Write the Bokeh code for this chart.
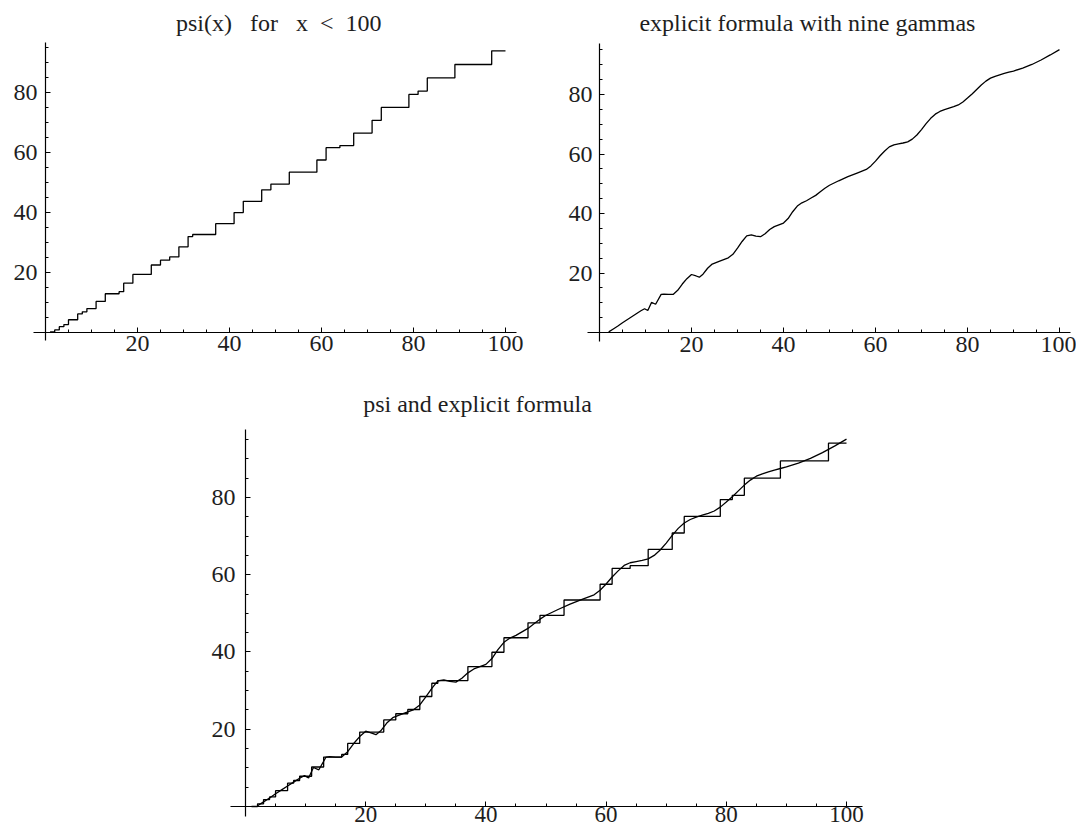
from bokeh.plotting import figure
from bokeh.models import Label, FixedTicker, Range1d
from bokeh.layouts import column, row
from bokeh.embed import file_html
from bokeh.resources import INLINE

# psi(x): jump points (prime powers) and step values
prime_powers = [1, 2, 3, 4, 5, 7, 8, 9, 11, 13, 16, 17, 19, 23, 25, 27, 29, 31, 32,
                37, 41, 43, 47, 49, 53, 59, 61, 64, 67, 71, 73, 79, 81, 83, 89, 97, 100]
psi_values = [0, 0.693, 1.792, 2.485, 4.094, 6.040, 6.733, 7.832, 10.230, 12.795,
              13.488, 16.321, 19.266, 22.401, 24.011, 25.109, 28.477, 31.911, 32.604,
              36.215, 39.928, 43.689, 47.540, 49.485, 53.456, 57.533, 61.644, 62.337,
              66.542, 70.805, 75.095, 79.465, 80.563, 84.982, 89.470, 94.045, 94.045]

# explicit formula curve
explicit_x = [2, 3, 4, 5, 6, 7, 8, 9, 9.8, 10.5, 11.3, 12.2, 13.4, 14, 15, 16, 17, 18,
              19, 20, 21, 21.7, 22.5, 23.5, 24.5, 26, 27, 28, 29, 30, 31, 32, 33, 34,
              35, 36, 37, 38, 39, 40, 41, 42, 43, 44, 45, 46, 47, 48, 49, 50, 52, 54,
              56, 58, 59, 60, 61, 62, 63, 64, 65, 66, 67, 68, 69, 70, 71, 72, 73, 74,
              75, 76, 77, 78, 79, 80, 81, 82, 83, 84, 85, 86, 87, 88, 89, 90, 92, 94,
              96, 98, 100]
explicit_y = [0.2, 1.2, 2.2, 3.3, 4.3, 5.3, 6.3, 7.3, 8.0, 7.4, 10.1, 9.5, 12.8, 12.9,
              12.8, 12.8, 14.2, 16.3, 18.1, 19.5, 19.0, 18.6, 19.6, 21.6, 23.0, 23.9,
              24.5, 25.1, 26.3, 28.4, 30.6, 32.5, 32.8, 32.4, 32.2, 33.2, 34.6, 35.6,
              36.2, 36.8, 38.3, 40.6, 42.5, 43.6, 44.3, 45.2, 46.1, 47.3, 48.5, 49.5,
              51.0, 52.4, 53.6, 54.8, 56.0, 57.6, 59.4, 61.0, 62.4, 63.1, 63.4, 63.7,
              64.1, 65.0, 66.4, 68.2, 70.2, 72.0, 73.4, 74.3, 74.9, 75.4, 75.9, 76.5,
              77.5, 78.8, 80.2, 81.7, 83.2, 84.5, 85.5, 86.1, 86.6, 87.1, 87.5, 87.9,
              88.9, 90.1, 91.6, 93.3, 95.1]

x_major = [20, 40, 60, 80, 100]
y_major = [20, 40, 60, 80]
x_minor = list(range(5, 101, 5))
y_minor = list(range(5, 96, 5))

FONT = "Liberation Serif"
NB = "\u00a0"
INK = "#1e1e1e"


def make_fig(w, h, xr, yr, xb, yb, xs, ys, xfs="24px"):
    p = figure(width=w, height=h,
               x_range=Range1d(*xr), y_range=Range1d(*yr),
               output_backend="svg", toolbar_location=None,
               min_border_left=0, min_border_right=0,
               min_border_top=0, min_border_bottom=0)
    p.outline_line_color = None
    p.grid.visible = False
    p.xaxis.fixed_location = 0
    p.yaxis.fixed_location = 0
    p.xaxis.bounds = xb
    p.yaxis.bounds = yb
    p.xaxis.ticker = FixedTicker(ticks=x_major, minor_ticks=x_minor)
    p.yaxis.ticker = FixedTicker(ticks=y_major, minor_ticks=y_minor)
    for ax in (p.xaxis, p.yaxis):
        ax.axis_line_color = "black"
        ax.axis_line_width = 1.2
        ax.major_tick_line_color = "black"
        ax.minor_tick_line_color = "black"
        ax.major_tick_in = 5
        ax.major_tick_out = 0
        ax.minor_tick_in = 3
        ax.minor_tick_out = 0
        ax.major_label_text_font = FONT
        ax.major_label_text_font_size = "24px"
        ax.major_label_text_color = INK
    p.xaxis.major_label_text_font_size = xfs
    p.xaxis.major_label_standoff = xs
    p.yaxis.major_label_standoff = ys
    return p


def add_title(p, x, y, text):
    p.add_layout(Label(x=x, y=y, text=text, text_align="center", text_baseline="middle",
                       text_font=FONT, text_font_size="24px", text_color=INK))


# top-left: psi(x)
p1 = make_fig(544, 362, (-9.78, 108.48), (-10.2, 110.87), (-2.6, 102.4), (-3.0, 96.8), 4, 8)
p1.step(prime_powers, psi_values, mode="after", line_color="black", line_width=1.3)
add_title(p1, 50.7, 103.5,
          "psi(x)" + NB * 3 + "for" + NB * 3 + "x" + NB * 2 + "<" + NB * 2 + "100")

# top-right: explicit formula
p2 = make_fig(532, 362, (-11.96, 103.7), (-10.08, 111.6), (-2.6, 102.4), (-3.0, 97.2), 4, 7)
p2.line(explicit_x, explicit_y, line_color="black", line_width=1.3)
add_title(p2, 45.2, 104.2, "explicit formula with nine gammas")

# bottom: both
p3 = make_fig(1076, 471, (-40.77, 138.27), (-6.99, 114.94), (-2.55, 102.7), (-2.5, 97.6),
              1, 10, xfs="23px")
p3.step(prime_powers, psi_values, mode="after", line_color="black", line_width=1.3)
p3.line(explicit_x, explicit_y, line_color="black", line_width=1.3)
add_title(p3, 38.6, 104.3, "psi and explicit formula")

layout = column(row(p1, p2), p3)
open("out.html", "w").write(file_html(layout, INLINE))
